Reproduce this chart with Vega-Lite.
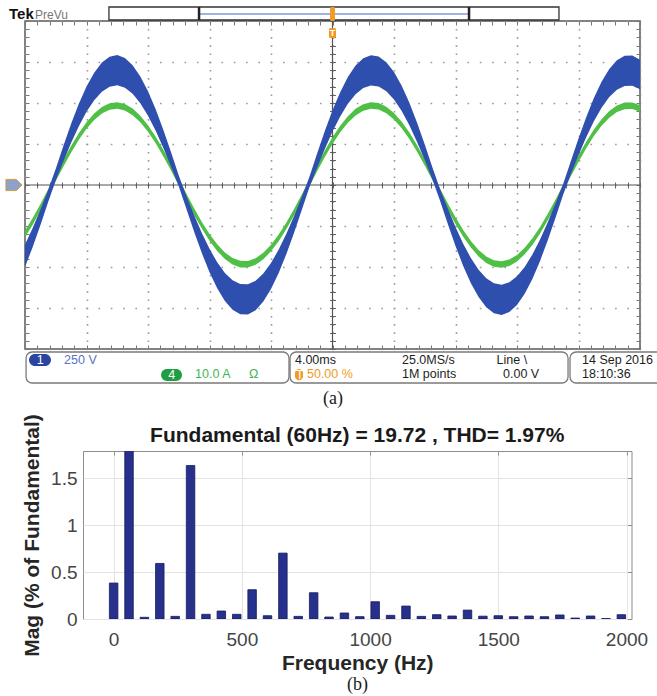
{
"$schema": "https://vega.github.io/schema/vega-lite/v6.json",
"background": "white",
"padding": {"left": 3, "top": 5, "right": 0, "bottom": 0},
"autosize": {"type": "pad"},
"config": {"font": "Liberation Sans", "axis": {"labelFont": "Liberation Sans", "titleFont": "Liberation Sans"}},
"title": {"text": "(b)", "orient": "bottom", "anchor": "start", "frame": "group", "dx": 322, "offset": 2, "baseline": "top", "font": "Liberation Serif", "fontSize": 18, "fontWeight": "normal", "color": "#1a1a1a"},
"datasets": {
"scope": [
{"t":0,"blue_hi":-1.451,"blue_lo":-1.999,"green_hi":-1.115,"green_lo":-1.275},
{"t":0.5,"blue_hi":-1.046,"blue_lo":-1.514,"green_hi":-0.807,"green_lo":-0.967},
{"t":1,"blue_hi":-0.601,"blue_lo":-0.983,"green_hi":-0.469,"green_lo":-0.629},
{"t":1.5,"blue_hi":-0.129,"blue_lo":-0.419,"green_hi":-0.110,"green_lo":-0.270},
{"t":2,"blue_hi":0.395,"blue_lo":0.109,"green_hi":0.255,"green_lo":0.095},
{"t":2.5,"blue_hi":0.959,"blue_lo":0.581,"green_hi":0.614,"green_lo":0.454},
{"t":3,"blue_hi":1.496,"blue_lo":1.030,"green_hi":0.955,"green_lo":0.795},
{"t":3.5,"blue_hi":1.981,"blue_lo":1.435,"green_hi":1.263,"green_lo":1.103},
{"t":4,"blue_hi":2.401,"blue_lo":1.787,"green_hi":1.531,"green_lo":1.371},
{"t":4.5,"blue_hi":2.740,"blue_lo":2.070,"green_hi":1.746,"green_lo":1.586},
{"t":5,"blue_hi":2.987,"blue_lo":2.277,"green_hi":1.904,"green_lo":1.744},
{"t":5.5,"blue_hi":3.131,"blue_lo":2.397,"green_hi":1.995,"green_lo":1.835},
{"t":6,"blue_hi":3.170,"blue_lo":2.430,"green_hi":2.020,"green_lo":1.860},
{"t":6.5,"blue_hi":3.100,"blue_lo":2.372,"green_hi":1.975,"green_lo":1.815},
{"t":7,"blue_hi":2.923,"blue_lo":2.223,"green_hi":1.863,"green_lo":1.703},
{"t":7.5,"blue_hi":2.648,"blue_lo":1.994,"green_hi":1.688,"green_lo":1.528},
{"t":8,"blue_hi":2.286,"blue_lo":1.690,"green_hi":1.457,"green_lo":1.297},
{"t":8.5,"blue_hi":1.847,"blue_lo":1.323,"green_hi":1.178,"green_lo":1.018},
{"t":9,"blue_hi":1.343,"blue_lo":0.903,"green_hi":0.858,"green_lo":0.698},
{"t":9.5,"blue_hi":0.798,"blue_lo":0.446,"green_hi":0.511,"green_lo":0.351},
{"t":10,"blue_hi":0.230,"blue_lo":-0.028,"green_hi":0.150,"green_lo":-0.010},
{"t":10.5,"blue_hi":-0.268,"blue_lo":-0.584,"green_hi":-0.215,"green_lo":-0.375},
{"t":11,"blue_hi":-0.734,"blue_lo":-1.142,"green_hi":-0.570,"green_lo":-0.730},
{"t":11.5,"blue_hi":-1.168,"blue_lo":-1.660,"green_hi":-0.900,"green_lo":-1.060},
{"t":12,"blue_hi":-1.557,"blue_lo":-2.127,"green_hi":-1.197,"green_lo":-1.357},
{"t":12.5,"blue_hi":-1.887,"blue_lo":-2.521,"green_hi":-1.447,"green_lo":-1.607},
{"t":13,"blue_hi":-2.147,"blue_lo":-2.831,"green_hi":-1.645,"green_lo":-1.805},
{"t":13.5,"blue_hi":-2.325,"blue_lo":-3.045,"green_hi":-1.780,"green_lo":-1.940},
{"t":14,"blue_hi":-2.417,"blue_lo":-3.155,"green_hi":-1.850,"green_lo":-2.010},
{"t":14.5,"blue_hi":-2.420,"blue_lo":-3.158,"green_hi":-1.852,"green_lo":-2.012},
{"t":15,"blue_hi":-2.333,"blue_lo":-3.055,"green_hi":-1.786,"green_lo":-1.946},
{"t":15.5,"blue_hi":-2.157,"blue_lo":-2.843,"green_hi":-1.652,"green_lo":-1.812},
{"t":16,"blue_hi":-1.902,"blue_lo":-2.538,"green_hi":-1.458,"green_lo":-1.618},
{"t":16.5,"blue_hi":-1.576,"blue_lo":-2.148,"green_hi":-1.210,"green_lo":-1.370},
{"t":17,"blue_hi":-1.188,"blue_lo":-1.684,"green_hi":-0.915,"green_lo":-1.075},
{"t":17.5,"blue_hi":-0.754,"blue_lo":-1.166,"green_hi":-0.585,"green_lo":-0.745},
{"t":18,"blue_hi":-0.291,"blue_lo":-0.611,"green_hi":-0.232,"green_lo":-0.392},
{"t":18.5,"blue_hi":0.200,"blue_lo":-0.054,"green_hi":0.130,"green_lo":-0.030},
{"t":19,"blue_hi":0.769,"blue_lo":0.423,"green_hi":0.493,"green_lo":0.333},
{"t":19.5,"blue_hi":1.316,"blue_lo":0.880,"green_hi":0.840,"green_lo":0.680},
{"t":20,"blue_hi":1.822,"blue_lo":1.302,"green_hi":1.163,"green_lo":1.003},
{"t":20.5,"blue_hi":2.264,"blue_lo":1.672,"green_hi":1.444,"green_lo":1.284},
{"t":21,"blue_hi":2.633,"blue_lo":1.981,"green_hi":1.679,"green_lo":1.519},
{"t":21.5,"blue_hi":2.914,"blue_lo":2.216,"green_hi":1.857,"green_lo":1.697},
{"t":22,"blue_hi":3.094,"blue_lo":2.366,"green_hi":1.972,"green_lo":1.812},
{"t":22.5,"blue_hi":3.167,"blue_lo":2.427,"green_hi":2.018,"green_lo":1.858},
{"t":23,"blue_hi":3.136,"blue_lo":2.402,"green_hi":1.999,"green_lo":1.839},
{"t":23.5,"blue_hi":2.996,"blue_lo":2.284,"green_hi":1.909,"green_lo":1.749},
{"t":24,"blue_hi":2.755,"blue_lo":2.083,"green_hi":1.756,"green_lo":1.596},
{"t":24.5,"blue_hi":2.420,"blue_lo":1.802,"green_hi":1.543,"green_lo":1.383},
{"t":25,"blue_hi":2.005,"blue_lo":1.455,"green_hi":1.279,"green_lo":1.119},
{"t":25.5,"blue_hi":1.520,"blue_lo":1.050,"green_hi":0.970,"green_lo":0.810},
{"t":26,"blue_hi":0.989,"blue_lo":0.607,"green_hi":0.633,"green_lo":0.473},
{"t":26.5,"blue_hi":0.425,"blue_lo":0.135,"green_hi":0.274,"green_lo":0.114},
{"t":27,"blue_hi":-0.104,"blue_lo":-0.388,"green_hi":-0.091,"green_lo":-0.251},
{"t":27.5,"blue_hi":-0.576,"blue_lo":-0.952,"green_hi":-0.450,"green_lo":-0.610},
{"t":28,"blue_hi":-1.022,"blue_lo":-1.486,"green_hi":-0.789,"green_lo":-0.949},
{"t":28.5,"blue_hi":-1.430,"blue_lo":-1.974,"green_hi":-1.100,"green_lo":-1.260},
{"t":29,"blue_hi":-1.782,"blue_lo":-2.396,"green_hi":-1.367,"green_lo":-1.527},
{"t":29.5,"blue_hi":-2.066,"blue_lo":-2.734,"green_hi":-1.583,"green_lo":-1.743},
{"t":30,"blue_hi":-2.274,"blue_lo":-2.984,"green_hi":-1.742,"green_lo":-1.902},
{"t":30.5,"blue_hi":-2.397,"blue_lo":-3.131,"green_hi":-1.835,"green_lo":-1.995},
{"t":31,"blue_hi":-2.430,"blue_lo":-3.170,"green_hi":-1.860,"green_lo":-2.020},
{"t":31.5,"blue_hi":-2.372,"blue_lo":-3.100,"green_hi":-1.815,"green_lo":-1.975},
{"t":32,"blue_hi":-2.226,"blue_lo":-2.926,"green_hi":-1.705,"green_lo":-1.865},
{"t":32.5,"blue_hi":-1.999,"blue_lo":-2.655,"green_hi":-1.532,"green_lo":-1.692},
{"t":33,"blue_hi":-1.696,"blue_lo":-2.292,"green_hi":-1.301,"green_lo":-1.461},
{"t":33.5,"blue_hi":-1.328,"blue_lo":-1.852,"green_hi":-1.022,"green_lo":-1.182},
{"t":34,"blue_hi":-0.907,"blue_lo":-1.349,"green_hi":-0.702,"green_lo":-0.862},
{"t":34.5,"blue_hi":-0.454,"blue_lo":-0.806,"green_hi":-0.357,"green_lo":-0.517},
{"t":35,"blue_hi":0.024,"blue_lo":-0.236,"green_hi":0.006,"green_lo":-0.154},
{"t":35.5,"blue_hi":0.578,"blue_lo":0.262,"green_hi":0.371,"green_lo":0.211},
{"t":36,"blue_hi":1.133,"blue_lo":0.727,"green_hi":0.724,"green_lo":0.564},
{"t":36.5,"blue_hi":1.654,"blue_lo":1.162,"green_hi":1.056,"green_lo":0.896},
{"t":37,"blue_hi":2.121,"blue_lo":1.553,"green_hi":1.353,"green_lo":1.193},
{"t":37.5,"blue_hi":2.518,"blue_lo":1.884,"green_hi":1.605,"green_lo":1.445},
{"t":38,"blue_hi":2.828,"blue_lo":2.144,"green_hi":1.803,"green_lo":1.643},
{"t":38.5,"blue_hi":3.042,"blue_lo":2.322,"green_hi":1.939,"green_lo":1.779},
{"t":39,"blue_hi":3.155,"blue_lo":2.417,"green_hi":2.010,"green_lo":1.850},
{"t":39.5,"blue_hi":3.158,"blue_lo":2.420,"green_hi":2.012,"green_lo":1.852},
{"t":40,"blue_hi":3.055,"blue_lo":2.333,"green_hi":1.946,"green_lo":1.786}
],
"record": [{"t0": 5.46, "t1": 34.73, "v0": 4.024, "v1": 4.341}],
"recordEnds": [{"t": 11.32}, {"t": 28.88}],
"trigger": [{"t0": 19.84, "t1": 20.16, "v0": 4.0, "v1": 4.34}, {"t0": 19.77, "t1": 20.23, "v0": 3.585, "v1": 3.83}],
"boxes": [
{"t0": 0.07, "t1": 17.17, "v0": -4.073, "v1": -4.829},
{"t0": 17.24, "t1": 35.32, "v0": -4.073, "v1": -4.829},
{"t0": 35.45, "t1": 43.5, "v0": -4.073, "v1": -4.829}
],
"pills": [
{"t0": 0.26, "t1": 1.69, "v0": -4.12, "v1": -4.415, "kind": "ch1"},
{"t0": 8.85, "t1": 10.21, "v0": -4.49, "v1": -4.78, "kind": "ch4"},
{"t0": 17.56, "t1": 18.08, "v0": -4.49, "v1": -4.76, "kind": "trig"}
],
"labels": [
{"t": 0.76, "v": -4.268, "text": "1", "kind": "pill"},
{"t": 2.54, "v": -4.268, "text": "250 V", "kind": "ch1"},
{"t": 9.31, "v": -4.635, "text": "4", "kind": "pill"},
{"t": 11.06, "v": -4.61, "text": "10.0 A", "kind": "ch4"},
{"t": 14.57, "v": -4.61, "text": "Ω", "kind": "ch4"},
{"t": 17.56, "v": -4.268, "text": "4.00ms", "kind": "info"},
{"t": 17.63, "v": -4.625, "text": "T", "kind": "pill"},
{"t": 18.34, "v": -4.61, "text": "50.00 %", "kind": "trig"},
{"t": 24.52, "v": -4.268, "text": "25.0MS/s", "kind": "info"},
{"t": 24.52, "v": -4.61, "text": "1M points", "kind": "info"},
{"t": 30.67, "v": -4.268, "text": "Line  \\", "kind": "info"},
{"t": 31.09, "v": -4.61, "text": "0.00 V", "kind": "info"},
{"t": 36.23, "v": -4.268, "text": "14 Sep 2016", "kind": "info"},
{"t": 36.23, "v": -4.61, "text": "18:10:36", "kind": "info"}
],
"harmonics": [
{"freq": 0, "mag": 0.383},
{"freq": 60, "mag": 100},
{"freq": 120, "mag": 0.018},
{"freq": 180, "mag": 0.592},
{"freq": 240, "mag": 0.028},
{"freq": 300, "mag": 1.635},
{"freq": 360, "mag": 0.05},
{"freq": 420, "mag": 0.085},
{"freq": 480, "mag": 0.05},
{"freq": 540, "mag": 0.312},
{"freq": 600, "mag": 0.035},
{"freq": 660, "mag": 0.702},
{"freq": 720, "mag": 0.028},
{"freq": 780, "mag": 0.28},
{"freq": 840, "mag": 0.021},
{"freq": 900, "mag": 0.064},
{"freq": 960, "mag": 0.025},
{"freq": 1020, "mag": 0.184},
{"freq": 1080, "mag": 0.039},
{"freq": 1140, "mag": 0.138},
{"freq": 1200, "mag": 0.028},
{"freq": 1260, "mag": 0.046},
{"freq": 1320, "mag": 0.032},
{"freq": 1380, "mag": 0.095},
{"freq": 1440, "mag": 0.03},
{"freq": 1500, "mag": 0.035},
{"freq": 1560, "mag": 0.025},
{"freq": 1620, "mag": 0.032},
{"freq": 1680, "mag": 0.025},
{"freq": 1740, "mag": 0.043},
{"freq": 1800, "mag": 0.01},
{"freq": 1860, "mag": 0.032},
{"freq": 1920, "mag": 0.005},
{"freq": 1980, "mag": 0.046}
]
},
"spacing": 102,
"bounds": "flush",
"vconcat": [
{
"width": 615, "height": 328,
"view": {"stroke": "#5a5a5a", "strokeWidth": 1.5},
"resolve": {"axis": {"x": "independent", "y": "independent"}},
"layer": [
{"data": {"values": [{}]}, "mark": {"type": "rule", "color": "#555555", "strokeWidth": 1.2},
 "encoding": {
  "x": {"datum": 0, "type": "quantitative", "scale": {"domain": [0, 40], "nice": false, "zero": false},
   "axis": {"orient": "bottom", "values": [0,4,8,12,16,20,24,28,32,36,40], "grid": true, "gridColor": "#9a9a9a", "gridWidth": 1.6, "gridDash": [1.6, 6.6], "gridDashOffset": 0.8, "ticks": false, "labels": false, "domain": false, "title": "(a)", "titleFont": "Liberation Serif", "titleFontSize": 18, "titleFontWeight": "normal", "titleColor": "#1a1a1a", "titleY": 49, "titleBaseline": "middle"}},
  "x2": {"datum": 40},
  "y": {"datum": 0, "type": "quantitative", "scale": {"domain": [-4, 4], "nice": false, "zero": false},
   "axis": {"orient": "left", "values": [-4,-3,-2,-1,0,1,2,3,4], "grid": true, "gridColor": "#9a9a9a", "gridWidth": 1.6, "gridDash": [1.6, 10.7], "gridDashOffset": 0.8, "ticks": false, "labels": false, "domain": false, "title": null}}
 }},
{"data": {"values": [{}]}, "mark": {"type": "rule", "color": "#555555", "strokeWidth": 1.2},
 "encoding": {
  "x": {"datum": 20, "type": "quantitative", "scale": {"domain": [0, 40], "nice": false, "zero": false},
   "axis": {"orient": "bottom", "offset": -167, "values": [0,0.8,1.6,2.4,3.2,4,4.8,5.6,6.4,7.2,8,8.8,9.6,10.4,11.2,12,12.8,13.6,14.4,15.2,16,16.8,17.6,18.4,19.2,20,20.8,21.6,22.4,23.2,24,24.8,25.6,26.4,27.2,28,28.8,29.6,30.4,31.2,32,32.8,33.6,34.4,35.2,36,36.8,37.6,38.4,39.2,40], "grid": false, "ticks": true, "tickSize": 6, "tickColor": "#666666", "tickWidth": 1, "labels": false, "domain": false, "title": null}},
  "y": {"datum": -4, "type": "quantitative", "scale": {"domain": [-4, 4], "nice": false, "zero": false},
   "axis": {"orient": "left", "offset": -310.5, "values": [-4,-3.8,-3.6,-3.4,-3.2,-3,-2.8,-2.6,-2.4,-2.2,-2,-1.8,-1.6,-1.4,-1.2,-1,-0.8,-0.6,-0.4,-0.2,0,0.2,0.4,0.6,0.8,1,1.2,1.4,1.6,1.8,2,2.2,2.4,2.6,2.8,3,3.2,3.4,3.6,3.8,4], "grid": false, "ticks": true, "tickSize": 6, "tickColor": "#666666", "tickWidth": 1, "labels": false, "domain": false, "title": null}},
  "y2": {"datum": 4}
 }},
{"data": {"name": "scope"}, "mark": {"type": "area", "color": "#4fbf45"},
 "encoding": {
  "x": {"field": "t", "type": "quantitative", "scale": {"domain": [0, 40], "nice": false, "zero": false},
   "axis": {"orient": "bottom", "offset": -4, "values": [0,0.8,1.6,2.4,3.2,4,4.8,5.6,6.4,7.2,8,8.8,9.6,10.4,11.2,12,12.8,13.6,14.4,15.2,16,16.8,17.6,18.4,19.2,20,20.8,21.6,22.4,23.2,24,24.8,25.6,26.4,27.2,28,28.8,29.6,30.4,31.2,32,32.8,33.6,34.4,35.2,36,36.8,37.6,38.4,39.2,40], "grid": false, "ticks": true, "tickSize": 4, "tickColor": "#777777", "tickWidth": 1, "labels": false, "domain": false, "title": null}},
  "y": {"field": "green_hi", "type": "quantitative", "scale": {"domain": [-4, 4], "nice": false, "zero": false},
   "axis": {"orient": "left", "offset": -4, "values": [-4,-3.8,-3.6,-3.4,-3.2,-3,-2.8,-2.6,-2.4,-2.2,-2,-1.8,-1.6,-1.4,-1.2,-1,-0.8,-0.6,-0.4,-0.2,0,0.2,0.4,0.6,0.8,1,1.2,1.4,1.6,1.8,2,2.2,2.4,2.6,2.8,3,3.2,3.4,3.6,3.8,4], "grid": false, "ticks": true, "tickSize": 4, "tickColor": "#777777", "tickWidth": 1, "labels": false, "domain": false, "title": null}},
  "y2": {"field": "green_lo"}
 }},
{"data": {"name": "scope"}, "mark": {"type": "area", "color": "#2f4fae"},
 "encoding": {
  "x": {"field": "t", "type": "quantitative", "scale": {"domain": [0, 40], "nice": false, "zero": false},
   "axis": {"orient": "top", "offset": -4, "values": [0,0.8,1.6,2.4,3.2,4,4.8,5.6,6.4,7.2,8,8.8,9.6,10.4,11.2,12,12.8,13.6,14.4,15.2,16,16.8,17.6,18.4,19.2,20,20.8,21.6,22.4,23.2,24,24.8,25.6,26.4,27.2,28,28.8,29.6,30.4,31.2,32,32.8,33.6,34.4,35.2,36,36.8,37.6,38.4,39.2,40], "grid": false, "ticks": true, "tickSize": 4, "tickColor": "#777777", "tickWidth": 1, "labels": false, "domain": false, "title": null}},
  "y": {"field": "blue_hi", "type": "quantitative", "scale": {"domain": [-4, 4], "nice": false, "zero": false},
   "axis": {"orient": "right", "offset": -4, "values": [-4,-3.8,-3.6,-3.4,-3.2,-3,-2.8,-2.6,-2.4,-2.2,-2,-1.8,-1.6,-1.4,-1.2,-1,-0.8,-0.6,-0.4,-0.2,0,0.2,0.4,0.6,0.8,1,1.2,1.4,1.6,1.8,2,2.2,2.4,2.6,2.8,3,3.2,3.4,3.6,3.8,4], "grid": false, "ticks": true, "tickSize": 4, "tickColor": "#777777", "tickWidth": 1, "labels": false, "domain": false, "title": null}},
  "y2": {"field": "blue_lo"}
 }},
{"data": {"name": "record"}, "mark": {"type": "rect", "fill": "white", "stroke": "#333333", "strokeWidth": 1.3},
 "encoding": {
  "x": {"field": "t0", "type": "quantitative", "scale": {"domain": [0, 40], "nice": false, "zero": false}, "axis": null},
  "x2": {"field": "t1"},
  "y": {"field": "v0", "type": "quantitative", "scale": {"domain": [-4, 4], "nice": false, "zero": false}, "axis": null},
  "y2": {"field": "v1"}
 }},
{"data": {"values": [{}]}, "mark": {"type": "rule", "color": "#9fb3e3", "strokeWidth": 2},
 "encoding": {
  "x": {"datum": 11.32, "type": "quantitative", "scale": {"domain": [0, 40], "nice": false, "zero": false}, "axis": null},
  "x2": {"datum": 28.88},
  "y": {"datum": 4.17, "type": "quantitative", "scale": {"domain": [-4, 4], "nice": false, "zero": false}, "axis": null}
 }},
{"data": {"name": "recordEnds"}, "mark": {"type": "rule", "color": "#222222", "strokeWidth": 2.5},
 "encoding": {
  "x": {"field": "t", "type": "quantitative", "scale": {"domain": [0, 40], "nice": false, "zero": false}, "axis": null},
  "y": {"datum": 4.024, "type": "quantitative", "scale": {"domain": [-4, 4], "nice": false, "zero": false}, "axis": null},
  "y2": {"datum": 4.341}
 }},
{"data": {"name": "trigger"}, "mark": {"type": "rect", "fill": "#f39a26", "cornerRadius": 1.5},
 "encoding": {
  "x": {"field": "t0", "type": "quantitative", "scale": {"domain": [0, 40], "nice": false, "zero": false}, "axis": null},
  "x2": {"field": "t1"},
  "y": {"field": "v0", "type": "quantitative", "scale": {"domain": [-4, 4], "nice": false, "zero": false}, "axis": null},
  "y2": {"field": "v1"}
 }},
{"data": {"values": [{"t": 20, "v": 3.71, "text": "T"}]}, "mark": {"type": "text", "color": "white", "fontSize": 9, "fontWeight": "bold", "align": "center", "baseline": "middle"},
 "encoding": {
  "x": {"field": "t", "type": "quantitative", "scale": {"domain": [0, 40], "nice": false, "zero": false}, "axis": null},
  "y": {"field": "v", "type": "quantitative", "scale": {"domain": [-4, 4], "nice": false, "zero": false}, "axis": null},
  "text": {"field": "text"}
 }},
{"data": {"name": "boxes"}, "mark": {"type": "rect", "fill": "white", "stroke": "#7a7a7a", "strokeWidth": 1.3, "cornerRadius": 6},
 "encoding": {
  "x": {"field": "t0", "type": "quantitative", "scale": {"domain": [0, 40], "nice": false, "zero": false}, "axis": null},
  "x2": {"field": "t1"},
  "y": {"field": "v0", "type": "quantitative", "scale": {"domain": [-4, 4], "nice": false, "zero": false}, "axis": null},
  "y2": {"field": "v1"}
 }},
{"data": {"name": "pills"}, "mark": {"type": "rect", "cornerRadius": 6},
 "encoding": {
  "x": {"field": "t0", "type": "quantitative", "scale": {"domain": [0, 40], "nice": false, "zero": false}, "axis": null},
  "x2": {"field": "t1"},
  "y": {"field": "v0", "type": "quantitative", "scale": {"domain": [-4, 4], "nice": false, "zero": false}, "axis": null},
  "y2": {"field": "v1"},
  "fill": {"field": "kind", "type": "nominal", "scale": {"domain": ["ch1", "ch4", "trig"], "range": ["#2a44a0", "#1f9e44", "#f39a26"]}, "legend": null}
 }},
{"data": {"name": "labels"}, "mark": {"type": "text", "fontSize": 12.5, "align": "left", "baseline": "middle", "font": "Liberation Sans"},
 "encoding": {
  "x": {"field": "t", "type": "quantitative", "scale": {"domain": [0, 40], "nice": false, "zero": false}, "axis": null},
  "y": {"field": "v", "type": "quantitative", "scale": {"domain": [-4, 4], "nice": false, "zero": false}, "axis": null},
  "text": {"field": "text"},
  "color": {"field": "kind", "type": "nominal", "scale": {"domain": ["ch1", "ch4", "trig", "info", "pill"], "range": ["#5673c4", "#45b553", "#f39a26", "#1e1e1e", "#ffffff"]}, "legend": null}
 }},
{"data": {"values": [{"t": -1.04, "v": 4.05, "text": "Tek"}]}, "mark": {"type": "text", "fontSize": 15, "fontWeight": "bold", "color": "#111111", "align": "left", "baseline": "alphabetic"},
 "encoding": {
  "x": {"field": "t", "type": "quantitative", "scale": {"domain": [0, 40], "nice": false, "zero": false}, "axis": null},
  "y": {"field": "v", "type": "quantitative", "scale": {"domain": [-4, 4], "nice": false, "zero": false}, "axis": null},
  "text": {"field": "text"}
 }},
{"data": {"values": [{"t": 0.65, "v": 4.05, "text": "PreVu"}]}, "mark": {"type": "text", "fontSize": 12, "color": "#777777", "align": "left", "baseline": "alphabetic"},
 "encoding": {
  "x": {"field": "t", "type": "quantitative", "scale": {"domain": [0, 40], "nice": false, "zero": false}, "axis": null},
  "y": {"field": "v", "type": "quantitative", "scale": {"domain": [-4, 4], "nice": false, "zero": false}, "axis": null},
  "text": {"field": "text"}
 }},
{"data": {"values": [{"t": -0.72, "v": 0}]}, "mark": {"type": "point", "shape": "M-1,-0.7L0.3,-0.7L1,0L0.3,0.7L-1,0.7Z", "size": 256, "filled": true, "fill": "#8ea2c9", "stroke": "#c9a13d", "strokeWidth": 1, "opacity": 1},
 "encoding": {
  "x": {"field": "t", "type": "quantitative", "scale": {"domain": [0, 40], "nice": false, "zero": false}, "axis": null},
  "y": {"field": "v", "type": "quantitative", "scale": {"domain": [-4, 4], "nice": false, "zero": false}, "axis": null}
 }}
]
},
{
"hconcat": [
{"width": 57.5, "height": 168, "view": {"stroke": null}, "data": {"values": [{}]}, "mark": {"type": "text", "text": " "}},
{
"width": 548.5, "height": 168,
"title": {"text": "Fundamental (60Hz) = 19.72 , THD= 1.97%", "anchor": "middle", "frame": "group", "fontSize": 21, "fontWeight": "bold", "font": "Liberation Sans", "color": "#1a1a1a", "baseline": "alphabetic", "offset": 8, "dy": 57},
"view": {"stroke": "#8c8c8c", "strokeWidth": 1},
"resolve": {"axis": {"x": "independent", "y": "independent"}},
"layer": [
{"data": {"name": "harmonics"}, "mark": {"type": "bar", "color": "#27318c", "stroke": "#151b5e", "strokeWidth": 0.8, "width": 8.5, "clip": true},
 "encoding": {
  "x": {"field": "freq", "type": "quantitative", "scale": {"domain": [-100, 2000], "nice": false, "zero": false},
   "axis": {"orient": "bottom", "values": [0, 500, 1000, 1500, 2000], "format": "d", "grid": true, "gridColor": "#e3e3e3", "ticks": false, "domain": false, "labelFontSize": 19, "labelColor": "#454545", "labelPadding": 11, "labelFlush": false, "title": "Frequency (Hz)", "titleFontSize": 21, "titleFontWeight": "bold", "titleColor": "#262626", "titlePadding": 3}},
  "y": {"field": "mag", "type": "quantitative", "scale": {"domain": [0, 1.79], "nice": false},
   "axis": {"orient": "left", "values": [0, 0.5, 1, 1.5], "format": "~g", "grid": true, "gridColor": "#e3e3e3", "ticks": false, "domain": false, "labelFontSize": 19, "labelColor": "#454545", "labelPadding": 6, "labelFlush": false, "title": "Mag (% of Fundamental)", "titleFontSize": 21, "titleFontWeight": "bold", "titleColor": "#262626", "titlePadding": 8}}
 }},
{"data": {"values": [{}]}, "mark": {"type": "rule", "opacity": 0},
 "encoding": {
  "x": {"datum": 0, "type": "quantitative", "scale": {"domain": [-100, 2000], "nice": false, "zero": false},
   "axis": {"orient": "top", "offset": -4, "values": [0, 500, 1000, 1500, 2000], "grid": false, "ticks": true, "tickSize": 4, "tickColor": "#8c8c8c", "labels": false, "domain": false, "title": null}},
  "y": {"datum": 0, "type": "quantitative", "scale": {"domain": [0, 1.79], "nice": false},
   "axis": {"orient": "right", "offset": -4, "values": [0, 0.5, 1, 1.5], "grid": false, "ticks": true, "tickSize": 4, "tickColor": "#8c8c8c", "labels": false, "domain": false, "title": null}}
 }}
]
}
],
"spacing": 0,
"bounds": "flush"
}
]
}
